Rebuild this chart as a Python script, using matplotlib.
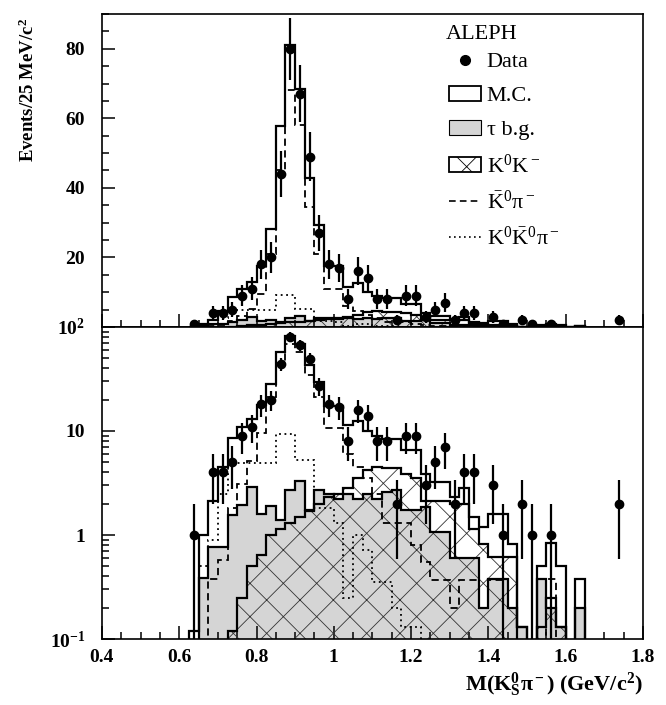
import numpy as np
import matplotlib
matplotlib.use('Agg')
import matplotlib.pyplot as plt
from matplotlib.ticker import MultipleLocator, FixedLocator, LogLocator, NullFormatter
from matplotlib.patches import Patch
from matplotlib.lines import Line2D

plt.rcParams.update({
    'font.family': 'Liberation Serif',
    'mathtext.fontset': 'custom',
    'mathtext.rm': 'Liberation Serif',
    'mathtext.it': 'Liberation Serif:italic',
    'mathtext.bf': 'Liberation Serif:bold',
    'mathtext.default': 'regular',
    'hatch.linewidth': 0.6,
    'hatch.color': '#333333',
})

# 25 MeV bins from 0.600 to 1.775 GeV
edges = np.linspace(0.6, 1.775, 48)
centers = 0.5 * (edges[:-1] + edges[1:])

data = np.array([0, 1, 0, 4, 4, 5, 9, 11, 18, 20, 44, 80, 67, 49, 27, 18, 17, 8,
                 16, 14, 8, 8, 2, 9, 9, 3, 5, 7, 2, 4, 4, 0, 3, 1, 0, 2, 1, 0, 1,
                 0, 0, 0, 0, 0, 0, 2, 0], dtype=float)
mc_total = np.array([0, 0.12, 1.0, 2.1, 4.5, 8.6, 11, 13, 17.6, 28.3, 57.8, 81,
                     68.4, 42.8, 29.3, 17.4, 17.4, 11.4, 12.6, 10, 9, 8.3, 8.3,
                     6.6, 6.6, 3.9, 3.2, 3.2, 2.3, 2.8, 1.5, 1.2, 1.6, 1.6, 0.82,
                     0.13, 0, 0.5, 0.83, 0.5, 0, 0.38, 0, 0, 0, 0, 0])
tau_bg = np.array([0, 0, 0.39, 0.77, 0.77, 1.56, 1.94, 2.9, 1.6, 1.9, 1.4, 2.7,
                   3.3, 1.75, 2.7, 2.5, 2.2, 2.5, 2.2, 2.5, 2.2, 2.6, 2.7, 1.74,
                   1.74, 1.87, 1.08, 1.08, 0.6, 0.6, 0.6, 0.2, 0.38, 0.38, 0.2,
                   0.13, 0, 0.38, 0.2, 0.13, 0, 0.2, 0, 0, 0, 0, 0])
k0k = np.array([0, 0, 0, 0, 0, 0.12, 0.25, 0.5, 0.64, 1.0, 1.13, 1.29, 1.5, 1.7,
                2.0, 2.3, 2.5, 2.8, 3.5, 4.2, 4.5, 4.4, 4.4, 3.9, 3.5, 2.1, 2.1,
                2.1, 2.0, 2.0, 1.13, 0.82, 0.61, 0.61, 0.61, 0, 0, 0.13, 0.25,
                0.13, 0, 0, 0, 0, 0, 0, 0])
k0bar_pi = np.array([0, 0, 0, 0.38, 0.58, 1.8, 3.1, 5.1, 9.5, 21, 45, 68, 58,
                     34.6, 21, 10.8, 10.8, 6.0, 4.5, 3.5, 2.5, 1.3, 1.3, 1.3, 0.8,
                     0.55, 0.37, 0.37, 0.2, 0.37, 0.37, 0.2, 0.37, 0.37, 0.2, 0,
                     0, 0, 0.38, 0, 0, 0.2, 0, 0, 0, 0, 0])
k0k0bar_pi = np.array([0, 0, 0.5, 0.9, 2.5, 4.9, 4.9, 4.9, 4.9, 4.9, 9.3, 9.3,
                       5.3, 5.3, 1.8, 1.8, 1.3, 0.25, 1.0, 0.72, 0.35, 0.35, 0.2,
                       0.13, 0.13, 0, 0, 0, 0, 0, 0, 0, 0, 0, 0, 0, 0, 0, 0, 0, 0,
                       0, 0, 0, 0, 0, 0])

x_ticks = [0.4, 0.6, 0.8, 1.0, 1.2, 1.4, 1.6, 1.8]
x_ticklabels = ['0.4', '0.6', '0.8', '1', '1.2', '1.4', '1.6', '1.8']

GRAY = '#d5d5d5'
LW = 1.6
DASH = (0, (4, 2.5))
DOT = (0, (1, 2))


def _trim(values):
    """edges/values restricted to the filled range of a histogram"""
    nz = np.nonzero(values)[0]
    lo, hi = nz[0], nz[-1] + 1
    return values[lo:hi], edges[lo:hi + 1]


def draw_panel(ax, log):
    base = 1e-3 if log else 0.0
    v, e = _trim(tau_bg)
    ax.stairs(v, e, baseline=base, fill=True, facecolor=GRAY, edgecolor='none', zorder=1)
    v, e = _trim(k0k)
    ax.stairs(v, e, baseline=base, fill=True, facecolor='none', edgecolor='#333333',
              hatch='x', linewidth=0, zorder=2)
    ax.stairs(v, e, baseline=base, color='k', lw=LW, zorder=3)
    v, e = _trim(tau_bg)
    ax.stairs(v, e, baseline=base, color='k', lw=LW, zorder=3)
    v, e = _trim(mc_total)
    ax.stairs(v, e, baseline=base, color='k', lw=LW, zorder=4)
    v, e = _trim(k0bar_pi)
    ax.stairs(v, e, baseline=base, color='k', lw=1.3, ls=DASH, zorder=4)
    v, e = _trim(k0k0bar_pi)
    ax.stairs(v, e, baseline=base, color='k', lw=1.3, ls=DOT, zorder=4)

    m = data > 0
    ax.errorbar(centers[m], data[m], yerr=np.sqrt(data[m]), xerr=0.009,
                fmt='o', color='k', ms=6, elinewidth=1.6, capsize=0, zorder=5)

    ax.set_xlim(0.4, 1.8)
    ax.xaxis.set_major_locator(FixedLocator(x_ticks))
    ax.xaxis.set_minor_locator(MultipleLocator(0.05))
    ax.tick_params(which='both', direction='in', top=False, right=False, width=1.1)
    ax.tick_params(which='major', length=9.5, labelsize=14, pad=7)
    ax.tick_params(which='minor', length=4.8)
    for s in ax.spines.values():
        s.set_linewidth(1.2)


fig = plt.figure(figsize=(6.66, 7.05), dpi=100)
ax_lin = fig.add_axes([0.153, 0.5362, 0.8125, 0.444])
ax_log = fig.add_axes([0.153, 0.0936, 0.8125, 0.4426])

# linear scale
ax_lin.set_ylim(0, 90)
ax_lin.yaxis.set_major_locator(FixedLocator([20, 40, 60, 80]))
ax_lin.yaxis.set_minor_locator(MultipleLocator(5))
draw_panel(ax_lin, log=False)
ax_lin.tick_params(axis='x', labelbottom=False)
ax_lin.tick_params(axis='y', pad=12)
ax_lin.set_yticklabels(['20', '40', '60', '80'], fontweight='bold')

# log scale
ax_log.set_yscale('log', nonpositive='clip')
ax_log.set_ylim(0.1, 100)
ax_log.yaxis.set_major_locator(FixedLocator([0.1, 1, 10, 100]))
ax_log.yaxis.set_minor_locator(LogLocator(base=10, subs=np.arange(2, 10)))
ax_log.yaxis.set_minor_formatter(NullFormatter())
draw_panel(ax_log, log=True)
ax_log.tick_params(axis='y', pad=12)
ax_log.set_yticklabels(['10$^{-1}$', '1', '10', '10$^{2}$'], fontweight='bold')
ax_log.set_xticklabels(x_ticklabels, fontweight='bold')

ax_log.set_xlabel(r'M(K$_S^0$π$^-$) (GeV/c$^2$)', fontsize=16, fontweight='bold',
                  loc='right', labelpad=3)
fig.text(0.042, 0.975, 'Events/25 MeV/c$^2$', rotation=90, ha='center', va='top',
         fontsize=13.5, fontweight='bold')

# legend: experiment name on top, then the entries
ax_lin.text(0.636, 0.933, 'ALEPH', transform=ax_lin.transAxes, ha='left',
            va='center', fontsize=16)
handles = [
    Line2D([], [], marker='o', ls='none', color='k', ms=7),
    Patch(facecolor='white', edgecolor='k', lw=1.3),
    Patch(facecolor=GRAY, edgecolor='k', lw=0.8),
    Patch(facecolor='white', edgecolor='k', lw=1.3, hatch='x'),
    Line2D([], [], color='k', lw=1.2, ls=DASH),
    Line2D([], [], color='k', lw=1.2, ls=DOT),
]
labels = ['Data', 'M.C.', 'τ b.g.', 'K$^0$K$^-$', r'$\bar{K}^0$π$^-$',
          r'K$^0\bar{K}^0$π$^-$']
leg = ax_lin.legend(handles, labels, loc='upper left',
                    bbox_to_anchor=(0.641, 0.878), frameon=False, fontsize=16,
                    handlelength=1.45, handleheight=0.65, handletextpad=0.25,
                    labelspacing=0.62, borderaxespad=0, borderpad=0)

fig.savefig('out.png', dpi=100)
